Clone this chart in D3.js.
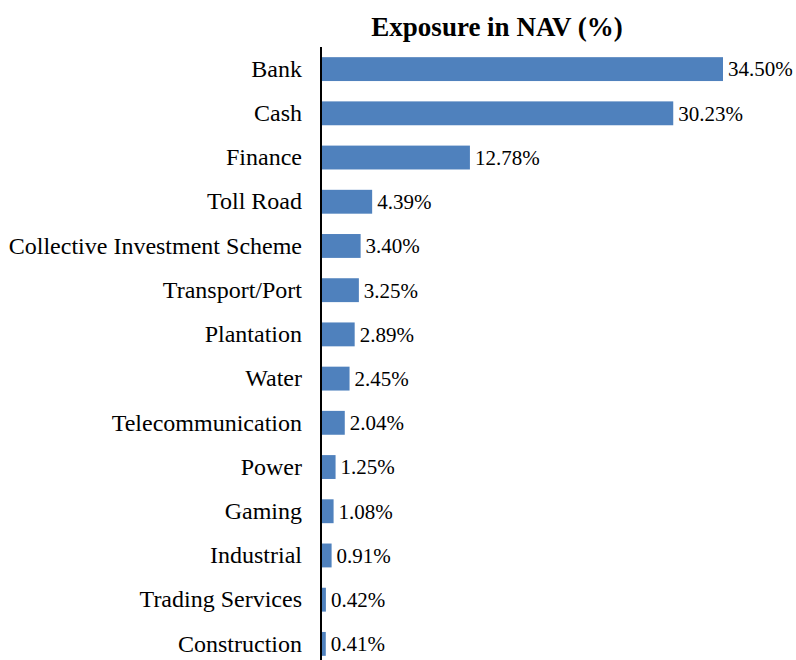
<!DOCTYPE html>
<html>
<head>
<meta charset="utf-8">
<script src="https://cdn.jsdelivr.net/npm/d3@7"></script>
<style>
  body { margin: 0; background: #fff; }
  text { font-family: "Liberation Serif", "Times New Roman", serif; fill: #000; }
</style>
</head>
<body>
<script>
const width = 796;
const height = 660;

// sectors and exposure in NAV (%)
const sectors = ["Bank", "Cash", "Finance", "Toll Road", "Collective Investment Scheme",
  "Transport/Port", "Plantation", "Water", "Telecommunication", "Power",
  "Gaming", "Industrial", "Trading Services", "Construction"];
const exposure = [34.50, 30.23, 12.78, 4.39, 3.40, 3.25, 2.89, 2.45, 2.04, 1.25, 1.08, 0.91, 0.42, 0.41];

const data = sectors.map((s, i) => ({ sector: s, value: exposure[i] }));

const svg = d3.select("body").append("svg")
  .attr("width", width).attr("height", height);

// title
svg.append("text")
  .attr("x", 497).attr("y", 36)
  .attr("text-anchor", "middle")
  .style("font-weight", "bold")
  .style("font-size", "27px")
  .text("Exposure in NAV (%)");

const x0 = 321;
const x = d3.scaleLinear().domain([0, 34.5]).range([x0, 723]);
const y = d3.scaleBand().domain(sectors).range([47, 666]).paddingInner(0.46).paddingOuter(0.23);

const g = svg.append("g");

g.selectAll(".bar")
  .data(data).enter().append("rect").classed("bar", true)
  .attr("x", x0)
  .attr("y", d => y(d.sector))
  .attr("width", d => x(d.value) - x0)
  .attr("height", y.bandwidth())
  .attr("fill", "#4F81BD");

// value labels
g.selectAll(".val")
  .data(data).enter().append("text").classed("val", true)
  .attr("x", d => x(d.value) + 5)
  .attr("y", d => y(d.sector) + y.bandwidth() / 2)
  .attr("dy", "0.35em")
  .style("font-size", "21px")
  .text(d => d.value.toFixed(2) + "%");

// category axis
const yAxis = d3.axisLeft(y).tickSize(0).tickPadding(19);
const ax = svg.append("g").attr("transform", `translate(${x0},0)`).call(yAxis);
ax.select(".domain").remove();
ax.selectAll("text").style("font-size", "24px").style("font-family", "Liberation Serif");

svg.append("line")
  .attr("x1", x0).attr("x2", x0)
  .attr("y1", 47).attr("y2", height)
  .attr("stroke", "#000").attr("stroke-width", 2);
</script>
</body>
</html>
